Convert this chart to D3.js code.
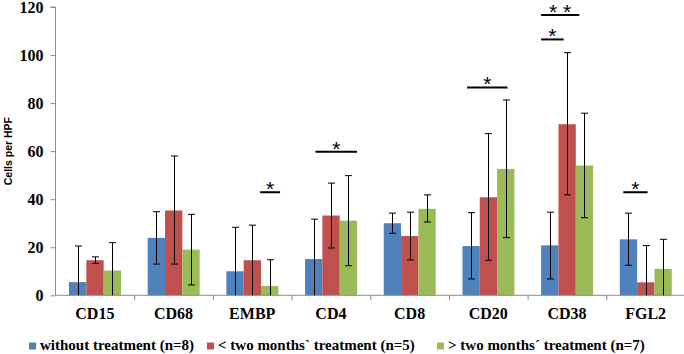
<!DOCTYPE html>
<html lang="en">
<head>
<meta charset="UTF-8">
<script src="https://d3js.org/d3.v7.min.js"></script>
<style>
  html, body { margin: 0; background: #fff; overflow: hidden; }
  text { font-family: "Liberation Serif", "Times New Roman", serif; font-weight: bold; }
</style>
<title>Cells per HPF</title>
</head>
<body>
<svg id="svg"></svg>
<script>
const categories = ['CD15', 'CD68', 'EMBP', 'CD4', 'CD8', 'CD20', 'CD38', 'FGL2'];
const series = ['without treatment (n=8)', '< two months` treatment (n=5)', '> two months\u00b4 treatment (n=7)'];
const colors = ['#4f81bd', '#c0504d', '#9bbb59'];

// means per group
const noTreatment = [5.5, 23.9, 10, 15.1, 30, 20.5, 20.8, 23.3];
const shortTreatment = [14.6, 35.3, 14.6, 33.2, 24.7, 40.8, 71.2, 5.4];
const longTreatment = [10.3, 19, 3.9, 31.1, 36, 52.6, 54, 11];
// error bar ends (upper / lower)
const noTreatmentHi = [20.5, 34.8, 28.3, 31.7, 34.2, 34.4, 34.6, 34.2];
const noTreatmentLo = [0, 13, 0, 0, 25.8, 6.8, 6.8, 12.5];
const shortTreatmentHi = [16, 58, 29.2, 46.7, 34.6, 67.3, 101, 20.7];
const shortTreatmentLo = [13.3, 13, 0, 19.7, 14.7, 14.6, 41.8, 0];
const longTreatmentHi = [21.9, 33.7, 14.8, 49.8, 41.8, 81.3, 75.8, 23.3];
const longTreatmentLo = [0, 4.3, 0, 12.3, 30.5, 24, 32.3, 0];

const yTicks = [0, 20, 40, 60, 80, 100, 120];

// significance marks: category, span in bar units within the group, height in data units
const sigCats = ['EMBP', 'CD4', 'CD20', 'CD38', 'CD38', 'FGL2'];
const sigFrom = [1.95, 0.6, 0.27, 0, 0, 0.2];
const sigTo = [3.1, 3, 2.6, 1.3, 2.2, 1.6];
const sigLevel = [42.9, 59.7, 86.5, 106.5, 116.7, 42.9];
const sigLabels = ['*', '*', '*', '*', '* *', '*'];

const means = [noTreatment, shortTreatment, longTreatment];
const his = [noTreatmentHi, shortTreatmentHi, longTreatmentHi];
const los = [noTreatmentLo, shortTreatmentLo, longTreatmentLo];

const width = 684, height = 354;
const svg = d3.select('#svg').attr('width', width).attr('height', height);

const x0 = d3.scaleBand().domain(categories).range([55.5, 685]).padding(0);
const x1 = d3.scaleBand().domain(d3.range(series.length)).range([13.5, x0.bandwidth() - 13.2]).padding(0);
const y = d3.scaleLinear().domain([0, 120]).range([295.3, 7]);
const barUnit = x1.bandwidth();

const rows = [];
categories.forEach((c, i) => {
  series.forEach((s, j) => {
    rows.push({ cat: c, s: j, v: means[j][i], hi: his[j][i], lo: los[j][i] });
  });
});

// bars
svg.append('g').selectAll('rect').data(rows).join('rect')
  .attr('x', d => x0(d.cat) + x1(d.s))
  .attr('y', d => y(d.v))
  .attr('width', barUnit)
  .attr('height', d => y(0) - y(d.v))
  .attr('fill', d => colors[d.s]);

// axes
const axisColor = '#8c8c8c';
const yAxis = svg.append('g').attr('transform', `translate(${x0.range()[0]},0)`)
  .call(d3.axisLeft(y).tickValues(yTicks).tickSize(5).tickPadding(7));
yAxis.select('.domain').attr('stroke', axisColor).attr('d', `M-5,${y(120)}H0V${y(0)}`);
yAxis.selectAll('.tick line').attr('stroke', axisColor);
yAxis.selectAll('.tick text')
  .attr('fill', '#000')
  .style('font-size', '16px')
  .style('font-family', '"Liberation Serif", serif')
  .style('font-weight', 'bold');

const xAxis = svg.append('g').attr('transform', `translate(0,${y(0)})`);
xAxis.append('line')
  .attr('x1', x0.range()[0]).attr('x2', x0.range()[1])
  .attr('stroke', axisColor);
xAxis.selectAll('.bound').data(categories.slice(1)).join('line')
  .attr('class', 'bound')
  .attr('x1', d => x0(d) + 0.5).attr('x2', d => x0(d) + 0.5)
  .attr('y1', 0).attr('y2', 5)
  .attr('stroke', axisColor);
xAxis.selectAll('text').data(categories).join('text')
  .attr('x', d => x0(d) + x0.bandwidth() / 2)
  .attr('y', 24)
  .attr('text-anchor', 'middle')
  .style('font-size', '16px')
  .text(d => d);

// error bars
const eb = svg.append('g').attr('stroke', '#000').attr('stroke-width', 1);
rows.forEach(d => {
  const cx = Math.round(x0(d.cat) + x1(d.s) + barUnit / 2) + 0.5;
  eb.append('line').attr('x1', cx).attr('x2', cx).attr('y1', y(d.hi)).attr('y2', y(d.lo));
  eb.append('line').attr('x1', cx - 3.5).attr('x2', cx + 3.5).attr('y1', y(d.hi)).attr('y2', y(d.hi));
  if (d.lo > 0) {
    eb.append('line').attr('x1', cx - 3.5).attr('x2', cx + 3.5).attr('y1', y(d.lo)).attr('y2', y(d.lo));
  }
});

// significance marks
const sg = svg.append('g');
sigCats.forEach((c, i) => {
  const gx = x0(c) + x1(0);
  const xa = gx + sigFrom[i] * barUnit, xb = gx + sigTo[i] * barUnit;
  const ly = y(sigLevel[i]);
  sg.append('line').attr('x1', xa).attr('x2', xb).attr('y1', ly).attr('y2', ly)
    .attr('stroke', '#000').attr('stroke-width', 2);
  sg.append('text')
    .attr('x', (xa + xb) / 2).attr('y', ly + 4)
    .attr('text-anchor', 'middle')
    .style('font-family', '"Liberation Sans", Arial, sans-serif')
    .style('font-size', '21px')
    .style('font-weight', 'normal')
    .text(sigLabels[i]);
});

// y axis title
svg.append('text')
  .attr('transform', `translate(11.5,${(y(0) + y(120)) / 2}) rotate(-90)`)
  .attr('text-anchor', 'middle')
  .style('font-family', '"Liberation Sans", Arial, sans-serif')
  .style('font-size', '10.5px')
  .text('Cells per HPF');

// legend
const legendX = [29, 207, 437];
const legend = svg.append('g');
series.forEach((s, j) => {
  legend.append('rect').attr('x', legendX[j]).attr('y', 342.5).attr('width', 7).attr('height', 7)
    .attr('fill', colors[j]);
  legend.append('text').attr('x', legendX[j] + 11).attr('y', 350)
    .style('font-size', '15px')
    .text(s);
});
</script>
</body>
</html>
